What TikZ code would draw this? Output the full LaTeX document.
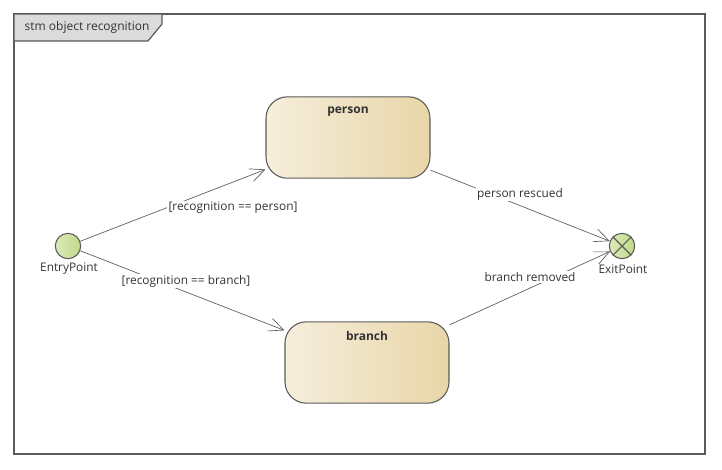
\documentclass[tikz,border=0pt]{standalone}
\usepackage{fontspec}
\setmainfont{Open Sans}
\usepackage{xcolor}
\usetikzlibrary{arrows.meta}
\definecolor{stL}{HTML}{F6EEDC}
\definecolor{stR}{HTML}{E8D6A8}
\definecolor{ptL}{HTML}{DDEBB8}
\definecolor{ptR}{HTML}{BFD98A}
\definecolor{ink}{HTML}{333333}
\definecolor{edge}{HTML}{5A5A5A}
\tikzset{
  frame/.style ={draw=edge, line width=0.9pt},
  tab/.style   ={draw=edge, line width=0.9pt, fill=black!14},
  state/.style ={rectangle, rounded corners=16pt, draw=edge, line width=0.8pt,
                 left color=stL, right color=stR, minimum width=123pt, minimum height=61pt},
  stname/.style={font=\bfseries\fontsize{9}{11}\selectfont, text=ink},
  pseudo/.style={circle, draw=edge, line width=0.8pt, left color=ptL, right color=ptR,
                 minimum size=19pt, inner sep=0pt},
  lbl/.style   ={font=\fontsize{8.9}{11}\selectfont, text=ink, fill=white, inner sep=1pt},
  ar/.style    ={-{Straight Barb[length=11pt,width=10pt]}, draw=edge, line width=0.5pt},
}
\begin{document}
\begin{tikzpicture}[x=0.75pt,y=-0.75pt]
\useasboundingbox (0,0) rectangle (722,469);
% diagram frame
\draw[frame] (14,14) rectangle (705,454);
\draw[tab] (14,14) -- (162,14) -- (162,24) -- (148,41) -- (14,41) -- cycle;
\node[font=\fontsize{9}{11}\selectfont, text=ink, anchor=west] (title) at (20,27) {stm object recognition};

\node[pseudo] (entry) at (68,246) {};
\node[pseudo] (exit) at (622,246) {};
\draw[edge, line width=0.8pt] (exit.north west) -- (exit.south east)
                              (exit.north east) -- (exit.south west);
\node[font=\fontsize{8.9}{11}\selectfont, text=ink] (entrylbl) at (69,269) {EntryPoint};
\node[font=\fontsize{8.9}{11}\selectfont, text=ink] (exitlbl) at (623,269) {ExitPoint};

\node[state, label={[stname, anchor=north, yshift=-4pt]north:person}] (person) at (348,137.5) {};
\node[state, label={[stname, anchor=north, yshift=-4pt]north:branch}] (branch) at (367,362.5) {};

\draw[ar] (entry) -- (person);
\draw[ar] (entry) -- (branch);
\draw[ar] (person) -- (exit);
\draw[ar] (branch) -- (exit);

\node[lbl] (g1) at (233,208) {[recognition == person]};
\node[lbl] (g2) at (186,281) {[recognition == branch]};
\node[lbl] (t1) at (520,194) {person rescued};
\node[lbl] (t2) at (530,277) {branch removed};
\end{tikzpicture}
\end{document}
